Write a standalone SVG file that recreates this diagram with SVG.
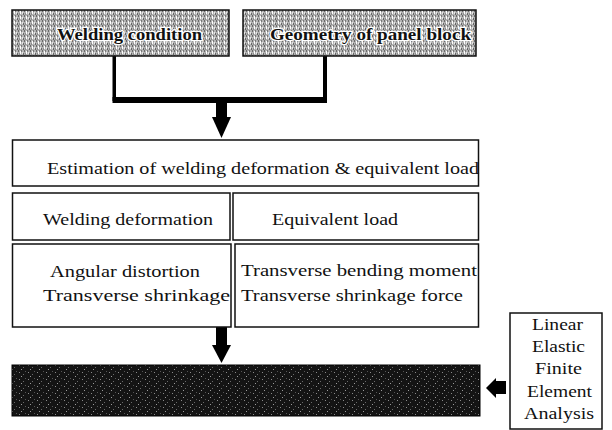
<svg xmlns="http://www.w3.org/2000/svg" width="612" height="430" viewBox="0 0 612 430" font-family="Liberation Serif, DejaVu Serif, serif">
<style>
.box{fill:#fff;stroke:#111;stroke-width:1.5}
.t{font-size:16px;fill:#111}
.tb{font-size:17px;font-weight:bold;fill:#111;stroke:#fff;stroke-width:2.5;paint-order:stroke}
.ln{fill:none;stroke:#000;stroke-linejoin:miter}
.ar{fill:#000}
</style>
<defs>
<pattern id="grayTex" width="6" height="5" patternUnits="userSpaceOnUse">
<rect width="6" height="5" fill="#b4b4b4"/>
<rect x="0" y="0" width="1" height="2" fill="#6a6a6a"/>
<rect x="2" y="1" width="1" height="3" fill="#ffffff"/>
<rect x="3" y="0" width="1" height="2" fill="#7a7a7a"/>
<rect x="4" y="2" width="1" height="2" fill="#e6e6e6"/>
<rect x="5" y="3" width="1" height="2" fill="#666"/>
<rect x="1" y="3" width="1" height="2" fill="#8c8c8c"/>
</pattern>
<pattern id="darkTex" width="9" height="7" patternUnits="userSpaceOnUse">
<rect width="9" height="7" fill="#141414"/>
<rect x="1" y="1" width="1" height="1" fill="#8a8a8a"/>
<rect x="5" y="3" width="1" height="1" fill="#6a6a6a"/>
<rect x="3" y="5" width="1" height="1" fill="#9a9a9a"/>
<rect x="7" y="0" width="1" height="1" fill="#555"/>
</pattern>
</defs>

<g id="connectors">
<rect class="ar" x="112.5" y="56" width="3.5" height="45"/>
<rect class="ar" x="323" y="56" width="4" height="45"/>
<rect class="ar" x="112.5" y="97" width="214.5" height="6"/>
<rect class="ar" x="216" y="102" width="11" height="16"/>
<polygon class="ar" points="212,117 231,117 221.5,138"/>
<rect class="ar" x="216" y="327" width="11" height="19"/>
<polygon class="ar" points="212,345 231,345 221.5,363"/>
<rect class="ar" x="495" y="381" width="11" height="13"/>
<polygon class="ar" points="496,378 496,398 486,388"/>
</g>

<g id="welding-condition">
<rect x="12" y="10" width="217" height="46" fill="url(#grayTex)" stroke="#111" stroke-width="1.5"/>
<text class="tb" x="57" y="40" textLength="145" lengthAdjust="spacingAndGlyphs">Welding condition</text>
</g>

<g id="geometry">
<rect x="243" y="10" width="233" height="46" fill="url(#grayTex)" stroke="#111" stroke-width="1.5"/>
<text class="tb" x="270" y="40" textLength="201" lengthAdjust="spacingAndGlyphs">Geometry of panel block</text>
</g>

<g id="estimation">
<rect class="box" x="12.5" y="140" width="466" height="46"/>
<text class="t" x="47" y="174" font-size="18" textLength="432" lengthAdjust="spacingAndGlyphs">Estimation of welding deformation &amp; equivalent load</text>
</g>

<g id="welding-deformation">
<rect class="box" x="12.5" y="193" width="217.5" height="47"/>
<text class="t" x="43" y="225" textLength="170" lengthAdjust="spacingAndGlyphs">Welding deformation</text>
</g>

<g id="equivalent-load">
<rect class="box" x="233" y="193" width="245.5" height="47"/>
<text class="t" x="272" y="225" textLength="126" lengthAdjust="spacingAndGlyphs">Equivalent load</text>
</g>

<g id="deformation-items">
<rect class="box" x="12.5" y="244" width="218.5" height="83"/>
<text class="t" x="50" y="277" textLength="150" lengthAdjust="spacingAndGlyphs">Angular distortion</text>
<text class="t" x="43" y="301" textLength="187" lengthAdjust="spacingAndGlyphs">Transverse shrinkage</text>
</g>

<g id="load-items">
<rect class="box" x="235" y="244" width="243.5" height="83"/>
<text class="t" x="241" y="276" textLength="236" lengthAdjust="spacingAndGlyphs">Transverse bending moment</text>
<text class="t" x="241" y="301" textLength="222" lengthAdjust="spacingAndGlyphs">Transverse shrinkage force</text>
</g>

<g id="result">
<rect x="12" y="365" width="468" height="51" fill="url(#darkTex)" stroke="#000" stroke-width="1"/>
</g>

<g id="fea">
<rect class="box" x="510" y="313" width="92" height="116"/>
<text class="t" x="532" y="330" textLength="51" lengthAdjust="spacingAndGlyphs">Linear</text>
<text class="t" x="532" y="352" textLength="53" lengthAdjust="spacingAndGlyphs">Elastic</text>
<text class="t" x="535" y="374" textLength="47" lengthAdjust="spacingAndGlyphs">Finite</text>
<text class="t" x="527" y="397" textLength="65" lengthAdjust="spacingAndGlyphs">Element</text>
<text class="t" x="524" y="419" textLength="70" lengthAdjust="spacingAndGlyphs">Analysis</text>
</g>
</svg>
